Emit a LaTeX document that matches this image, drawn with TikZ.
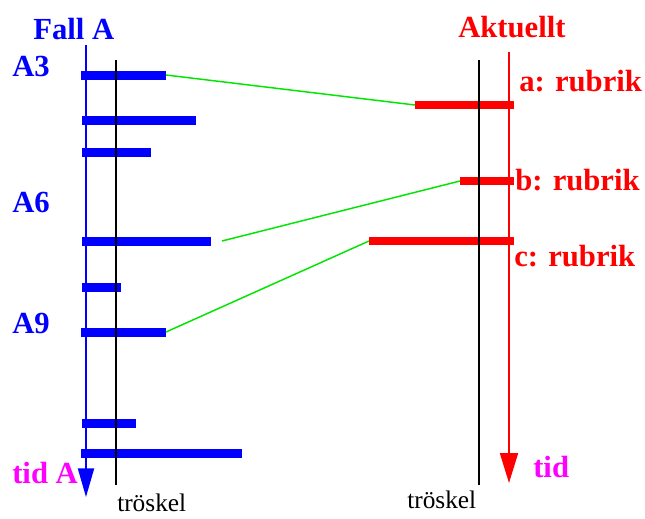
\documentclass[tikz,border=0pt]{standalone}
\usepackage{fontspec}
\setmainfont{Liberation Serif}
\usetikzlibrary{arrows.meta}
\definecolor{fallblue}{RGB}{0,0,255}
\definecolor{aktred}{RGB}{255,0,0}
\definecolor{tidmag}{RGB}{255,0,255}
\definecolor{linkgreen}{RGB}{0,230,0}
\begin{document}
\begin{tikzpicture}[x=0.75pt,y=-0.75pt,
  biglabel/.style={inner sep=0pt,anchor=base west,font=\fontsize{23}{26}\selectfont\bfseries},
  smalllabel/.style={inner sep=0pt,anchor=base west,font=\fontsize{19}{22}\selectfont},
  bluebar/.style={draw=fallblue,line width=6.75pt},
  redbar/.style={draw=aktred,line width=6.5pt},
  thresh/.style={draw=black,line width=1.5pt},
  link/.style={draw=linkgreen,line width=1.1pt}]
\useasboundingbox (0,0) rectangle (645,518);
% labels
\node[biglabel,text=fallblue] (fallA) at (33,39) {Fall A};
\node[biglabel,text=fallblue] (a3) at (12,76) {A3};
\node[biglabel,text=fallblue] (a6) at (12,212) {A6};
\node[biglabel,text=fallblue] (a9) at (12,333) {A9};
\node[biglabel,text=tidmag] (tidA) at (12,483) {tid A};
\node[biglabel,text=aktred] (akt) at (458,37) {Aktuellt};
\node[biglabel,text=aktred] (ra) at (519,91) {a: rubrik};
\node[biglabel,text=aktred] (rb) at (515,190) {b: rubrik};
\node[biglabel,text=aktred] (rc) at (514,266) {c: rubrik};
\node[biglabel,text=tidmag] (tid) at (533,477) {tid};
\node[smalllabel] (trL) at (117,511) {tröskel};
\node[smalllabel] (trR) at (407,508) {tröskel};
% axes
\coordinate (bTop) at (86,45); \coordinate (bTip) at (86,497);
\coordinate (rTop) at (509,52); \coordinate (rTip) at (509,483);
\coordinate (tLt) at (116,60); \coordinate (tLb) at (116,485);
\coordinate (tRt) at (479,60); \coordinate (tRb) at (479,485);
% blue bars
\coordinate (b1s) at (81,75);  \coordinate (b1e) at (166,75);
\coordinate (b2s) at (82,120); \coordinate (b2e) at (196,120);
\coordinate (b3s) at (82,152); \coordinate (b3e) at (151,152);
\coordinate (b4s) at (82,241); \coordinate (b4e) at (211,241);
\coordinate (b5s) at (82,287); \coordinate (b5e) at (121,287);
\coordinate (b6s) at (81,332); \coordinate (b6e) at (166,332);
\coordinate (b7s) at (82,423); \coordinate (b7e) at (136,423);
\coordinate (b8s) at (81,453); \coordinate (b8e) at (242,453);
\draw[bluebar] (b1s) -- (b1e);
\draw[bluebar] (b2s) -- (b2e);
\draw[bluebar] (b3s) -- (b3e);
\draw[bluebar] (b4s) -- (b4e);
\draw[bluebar] (b5s) -- (b5e);
\draw[bluebar] (b6s) -- (b6e);
\draw[bluebar] (b7s) -- (b7e);
\draw[bluebar] (b8s) -- (b8e);
% red bars
\coordinate (raS) at (415,105); \coordinate (raE) at (514,105);
\coordinate (rbS) at (460,181); \coordinate (rbE) at (514,181);
\coordinate (rcS) at (369,241); \coordinate (rcE) at (514,241);
\draw[redbar] (raS) -- (raE);
\draw[redbar] (rbS) -- (rbE);
\draw[redbar] (rcS) -- (rcE);
% axes and thresholds
\draw[fallblue,line width=1.5pt,-{Triangle[length=21.5pt,width=12pt]}] (bTop) -- (bTip);
\draw[aktred,line width=1.5pt,-{Triangle[length=22.5pt,width=13.5pt]}] (rTop) -- (rTip);
\draw[thresh] (tLt) -- (tLb);
\draw[thresh] (tRt) -- (tRb);
% green links
\coordinate (g2s) at (222,241);
\draw[link] (b1e) -- (raS);
\draw[link] (g2s) -- (rbS);
\draw[link] (b6e) -- (rcS);
\end{tikzpicture}
\end{document}
